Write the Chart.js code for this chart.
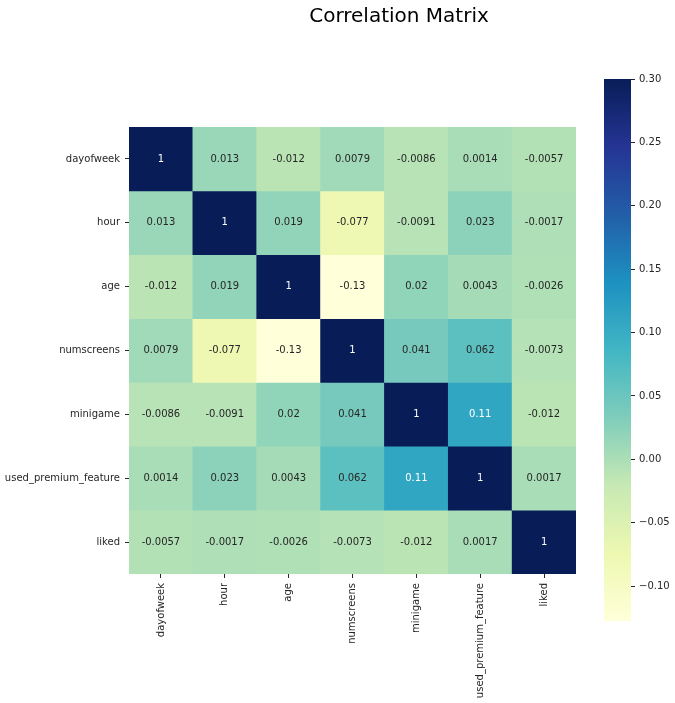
<!DOCTYPE html>
<html>
<head>
<meta charset="utf-8">
<script src="https://cdn.jsdelivr.net/npm/chart.js@4.4.0/dist/chart.umd.min.js"></script>
<style>
  html, body { margin: 0; padding: 0; background: #ffffff; }
  #wrap { position: relative; width: 675px; height: 703px; overflow: hidden; }
  #wrap canvas { position: absolute; left: 0; top: 0; }
  #title { position: absolute; left: 0; width: 798px; top: 3px; text-align: center;
           font-family: "DejaVu Sans", sans-serif; font-size: 20px; color: #000; white-space: nowrap; }
</style>
</head>
<body>
<div id="wrap">
  <canvas id="heat" width="675" height="703"></canvas>
  <canvas id="cbar" width="675" height="703"></canvas>
  <div id="title">Correlation Matrix</div>
</div>
<script>
// ---- data ----
const variables = ["dayofweek", "hour", "age", "numscreens", "minigame", "used_premium_feature", "liked"];
const rowDayofweek  = [1, 0.013, -0.012, 0.0079, -0.0086, 0.0014, -0.0057];
const rowHour       = [0.013, 1, 0.019, -0.077, -0.0091, 0.023, -0.0017];
const rowAge        = [-0.012, 0.019, 1, -0.13, 0.02, 0.0043, -0.0026];
const rowNumscreens = [0.0079, -0.077, -0.13, 1, 0.041, 0.062, -0.0073];
const rowMinigame   = [-0.0086, -0.0091, 0.02, 0.041, 1, 0.11, -0.012];
const rowPremium    = [0.0014, 0.023, 0.0043, 0.062, 0.11, 1, 0.0017];
const rowLiked      = [-0.0057, -0.0017, -0.0026, -0.0073, -0.012, 0.0017, 1];
const matrix = [rowDayofweek, rowHour, rowAge, rowNumscreens, rowMinigame, rowPremium, rowLiked];
const colorbarTicks = [-0.10, -0.05, 0.00, 0.05, 0.10, 0.15, 0.20, 0.25, 0.30];
const vMin = -0.1275;
const vMax = 0.30;

// ---- YlGnBu colormap ----
const ylgnbu = ["#ffffd9", "#edf8b1", "#c7e9b4", "#7fcdbb", "#41b6c4", "#1d91c0", "#225ea8", "#253494", "#081d58"];
function hexToRgb(h) { return [parseInt(h.slice(1,3),16), parseInt(h.slice(3,5),16), parseInt(h.slice(5,7),16)]; }
const cmapRgb = ylgnbu.map(hexToRgb);
function cmap(v) {
  let t = (v - vMin) / (vMax - vMin);
  t = Math.max(0, Math.min(1, t));
  const p = t * (cmapRgb.length - 1);
  const i = Math.min(Math.floor(p), cmapRgb.length - 2);
  const f = p - i;
  const a = cmapRgb[i], b = cmapRgb[i+1];
  return [0,1,2].map(k => Math.round(a[k] + (b[k]-a[k]) * f));
}
function rgbStr(c) { return "rgb(" + c[0] + "," + c[1] + "," + c[2] + ")"; }
function lum(c) {
  const l = c.map(x => { x /= 255; return x <= 0.03928 ? x / 12.92 : Math.pow((x + 0.055) / 1.055, 2.4); });
  return 0.2126 * l[0] + 0.7152 * l[1] + 0.0722 * l[2];
}
function fmt(v) { return String(v); }

const FONT = "'DejaVu Sans', sans-serif";
const TXT = "#262626";

// ---- heatmap ----
const datasets = matrix.map((row, r) => ({
  label: variables[r],
  data: row.map(() => 1),
  values: row,
  backgroundColor: row.map(v => rgbStr(cmap(v))),
  borderWidth: 0,
  barPercentage: 1.0,
  categoryPercentage: 1.0
}));

const annotPlugin = {
  id: "annot",
  afterDatasetsDraw(chart) {
    const ctx = chart.ctx;
    ctx.save();
    ctx.font = "10px " + FONT;
    ctx.textAlign = "center";
    ctx.textBaseline = "middle";
    chart.data.datasets.forEach((ds, r) => {
      const meta = chart.getDatasetMeta(r);
      meta.data.forEach((bar, c) => {
        const v = ds.values[c];
        const col = cmap(v);
        ctx.fillStyle = lum(col) < 0.408 ? "#ffffff" : TXT;
        const cy = (bar.y + bar.base) / 2;
        ctx.fillText(fmt(v), bar.x, cy);
      });
    });
    ctx.restore();
  }
};

new Chart(document.getElementById("heat"), {
  type: "bar",
  data: { labels: variables, datasets: datasets },
  options: {
    responsive: false,
    animation: false,
    devicePixelRatio: 1,
    layout: { padding: { left: 0, top: 127, right: 99, bottom: 0 } },
    plugins: { legend: { display: false }, tooltip: { enabled: false }, title: { display: false } },
    scales: {
      x: {
        stacked: true,
        offset: true,
        border: { display: false },
        grid: { offset: false, drawOnChartArea: false, drawTicks: true, tickLength: 4, tickWidth: 1, color: TXT },
        ticks: { color: TXT, font: { family: FONT, size: 10 }, minRotation: 90, maxRotation: 90, autoSkip: false, padding: 5 },
        afterFit(s) { s.height = 129; }
      },
      y: {
        stacked: true,
        min: 0,
        max: variables.length,
        reverse: true,
        border: { display: false },
        grid: { drawOnChartArea: false, drawTicks: true, tickLength: 4, tickWidth: 1, color: TXT },
        afterBuildTicks(s) { s.ticks = variables.map((_, i) => ({ value: i + 0.5 })); },
        ticks: {
          color: TXT, font: { family: FONT, size: 10 }, padding: 5,
          callback: (val) => variables[Math.floor(val)]
        },
        afterFit(s) { s.width = 129; }
      }
    }
  },
  plugins: [annotPlugin]
});

// ---- colorbar ----
new Chart(document.getElementById("cbar"), {
  type: "bar",
  data: {
    labels: [""],
    datasets: [{
      data: [[vMin, vMax]],
      borderWidth: 0,
      barPercentage: 1.0,
      categoryPercentage: 1.0,
      backgroundColor(ctx) {
        const chart = ctx.chart;
        const area = chart.chartArea;
        if (!area) return ylgnbu[4];
        const ys = chart.scales.y;
        const g = chart.ctx.createLinearGradient(0, ys.getPixelForValue(vMin), 0, ys.getPixelForValue(vMax));
        ylgnbu.forEach((c, i) => g.addColorStop(i / (ylgnbu.length - 1), c));
        return g;
      }
    }]
  },
  options: {
    responsive: false,
    animation: false,
    devicePixelRatio: 1,
    layout: { padding: { left: 604, top: 79, right: 0, bottom: 82 } },
    plugins: { legend: { display: false }, tooltip: { enabled: false } },
    scales: {
      x: { display: false },
      y: {
        position: "right",
        min: vMin,
        max: vMax,
        border: { display: false },
        grid: { drawOnChartArea: false, drawTicks: true, tickLength: 4, tickWidth: 1, color: TXT },
        afterBuildTicks(s) { s.ticks = colorbarTicks.map(v => ({ value: v })); },
        ticks: {
          color: TXT, font: { family: FONT, size: 10 }, padding: 4,
          callback: (v) => (v < 0 ? "\u2212" : "") + Math.abs(v).toFixed(2)
        },
        afterFit(s) { s.width = 44; }
      }
    }
  }
});
</script>
</body>
</html>
